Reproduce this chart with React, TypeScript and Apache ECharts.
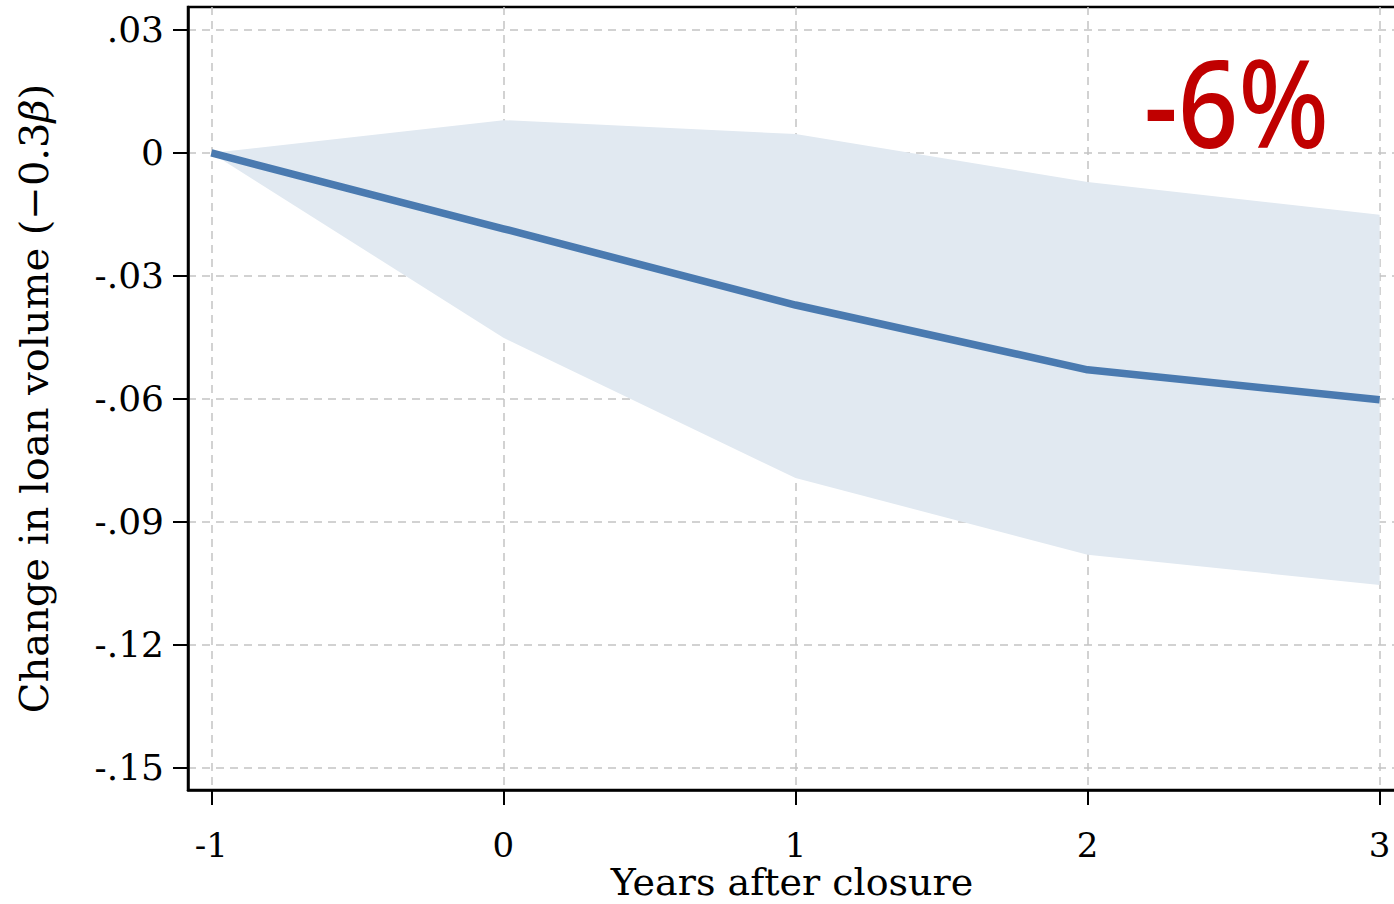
import React, { useEffect, useRef } from "react";
import * as echarts from "echarts";

const years = [-1, 0, 1, 2, 3];
const estimate = [0, -0.0185, -0.0371, -0.0529, -0.0602];
const upperCI = [0, 0.008, 0.0046, -0.0071, -0.0151];
const lowerCI = [0, -0.0451, -0.0793, -0.098, -0.1054];
const yTicks = [0.03, 0, -0.03, -0.06, -0.09, -0.12, -0.15];
const xTicks = [-1, 0, 1, 2, 3];

const fmtY = (v: number) => {
  if (Math.abs(v) < 1e-9) return "0";
  const s = Math.abs(v).toFixed(2).replace(/^0/, "");
  return (v < 0 ? "-" : "") + s;
};

export default function App() {
  const ref = useRef<HTMLDivElement>(null);
  useEffect(() => {
    const chart = echarts.init(ref.current!, null, { renderer: "svg" });
    const serif = "'DejaVu Serif', 'Liberation Serif', serif";
    const bandData = years.map((x, i) => [x, lowerCI[i], upperCI[i]]);
    chart.setOption({
      animation: false,
      grid: {
        left: 188,
        top: 7,
        width: 1208,
        height: 783,
        show: true,
        borderColor: "#000",
        borderWidth: 2.5,
        backgroundColor: "transparent",
        outerBoundsMode: "none",
        containLabel: false,
      },
      xAxis: {
        type: "value",
        min: -1.08,
        max: 3.056,
        name: "Years after closure",
        nameLocation: "middle",
        nameGap: 74,
        nameMoveOverlap: false,
        nameTextStyle: { fontFamily: serif, fontSize: 38, lineHeight: 36, color: "#000" },
        axisLine: { show: true, onZero: false, lineStyle: { color: "#000", width: 2.5 } },
        axisTick: { show: true, length: 15, lineStyle: { color: "#000", width: 2 }, customValues: xTicks },
        axisLabel: {
          customValues: xTicks,
          margin: 39,
          lineHeight: 32,
          fontFamily: serif,
          fontSize: 34,
          color: "#000",
          formatter: (v: number) => String(v),
        },
        splitLine: { show: true, lineStyle: { color: "#c4c4c4", type: [8, 6], width: 1.5 } },
      },
      yAxis: {
        type: "value",
        min: -0.1554,
        max: 0.0356,
        name: "Change in loan volume (\u22120.3{i|\u03b2})",
        nameLocation: "middle",
        nameGap: 134,
        nameRotate: 90,
        nameTextStyle: {
          fontFamily: serif,
          fontSize: 40,
          color: "#000",
          rich: { i: { fontFamily: serif, fontSize: 40, fontStyle: "italic", color: "#000" } },
        },
        axisLine: { show: true, onZero: false, lineStyle: { color: "#000", width: 2.5 } },
        axisTick: { show: true, length: 15, lineStyle: { color: "#000", width: 2 }, customValues: yTicks },
        axisLabel: {
          customValues: yTicks,
          margin: 24,
          fontFamily: serif,
          fontSize: 36,
          color: "#000",
          formatter: (v: number) => fmtY(v),
        },
        splitLine: { show: true, lineStyle: { color: "#c4c4c4", type: [8, 6], width: 1.5 } },
      },
      graphic: [
        {
          type: "text",
          x: 1329,
          y: 101,
          scaleX: 0.87,
          style: {
            text: "-6%",
            fill: "#c00000",
            font: "500 122px 'Noto Sans', Lato, sans-serif",
            textAlign: "right",
            textVerticalAlign: "middle",
          },
        },
      ],
      series: [
        {
          type: "custom",
          name: "band",
          data: bandData,
          silent: true,
          z: 1,
          renderItem: (params: any, api: any) => {
            if (params.dataIndex !== 0) return null;
            const top = bandData.map((d) => api.coord([d[0], d[2]]));
            const bottom = bandData.map((d) => api.coord([d[0], d[1]])).reverse();
            return {
              type: "polygon",
              shape: { points: top.concat(bottom) },
              style: { fill: "#e1e9f1" },
            };
          },
        },
        {
          type: "line",
          name: "estimate",
          data: years.map((x, i) => [x, estimate[i]]),
          symbol: "none",
          lineStyle: { color: "#4a7ab0", width: 7.5 },
          z: 3,
        },
      ],
    });
    return () => chart.dispose();
  }, []);
  return (
    <div
      ref={ref}
      style={{ position: "fixed", left: 0, top: 0, width: 1394, height: 904, background: "#fff" }}
    />
  );
}
